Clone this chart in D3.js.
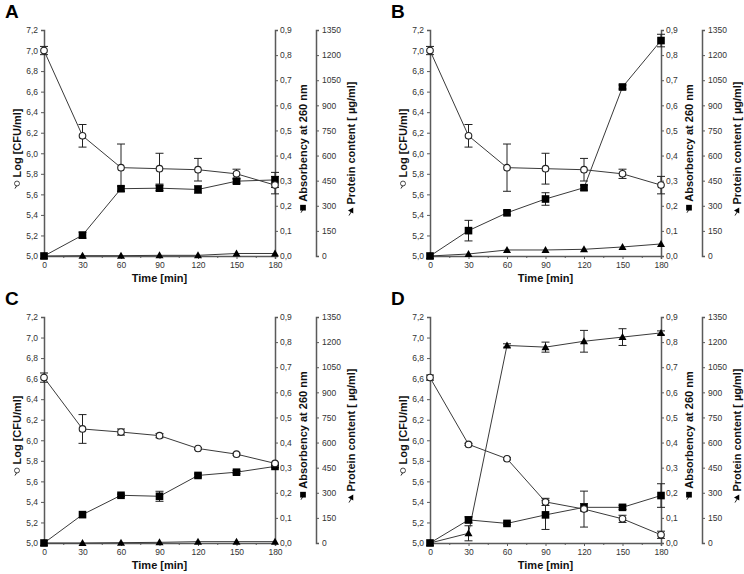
<!DOCTYPE html>
<html><head><meta charset="utf-8">
<script src="https://cdn.jsdelivr.net/npm/d3@7"></script>
<style>body{margin:0;background:#fff}svg{display:block}</style>
</head><body><svg id="c" width="744" height="574"></svg>
<script>
// ---- data ----
const times = [0, 30, 60, 90, 120, 150, 180];
const timeTicks = [0, 30, 60, 90, 120, 150, 180];
const timeMinorTicks = [15, 45, 75, 105, 135, 165];
const logTicks = [5.0, 5.2, 5.4, 5.6, 5.8, 6.0, 6.2, 6.4, 6.6, 6.8, 7.0, 7.2];
const absTicks = [0, 0.1, 0.2, 0.3, 0.4, 0.5, 0.6, 0.7, 0.8, 0.9];
const protTicks = [0, 150, 300, 450, 600, 750, 900, 1050, 1200, 1350];
const panelLetters = ["A", "B", "C", "D"];

const cfuA = [7.00, 6.17, 5.86, 5.85, 5.84, 5.80, 5.69];
const cfuErrA = [0.04, 0.11, 0.23, 0.15, 0.11, 0.045, 0.085];
const absA = [0, 0.083, 0.268, 0.270, 0.265, 0.298, 0.303];
const absErrA = [0, 0.012, 0.010, 0.010, 0.015, 0.008, 0.030];
const protA = [0, 2, 2, 4, 4, 15, 15];
const protErrA = [0, 0, 0, 0, 0, 0, 0];

const cfuB = [7.00, 6.17, 5.86, 5.85, 5.84, 5.80, 5.69];
const cfuErrB = [0.04, 0.11, 0.23, 0.15, 0.11, 0.045, 0.085];
const absB = [0, 0.101, 0.172, 0.227, 0.272, 0.673, 0.858];
const absErrB = [0, 0.041, 0.008, 0.025, 0.010, 0.008, 0.025];
const protB = [0, 12, 36, 36, 40, 54, 72];
const protErrB = [0, 0, 0, 0, 0, 0, 0];

const cfuC = [6.61, 6.11, 6.08, 6.045, 5.92, 5.865, 5.775];
const cfuErrC = [0.045, 0.14, 0.03, 0.02, 0.01, 0.01, 0.01];
const absC = [0, 0.113, 0.190, 0.186, 0.269, 0.282, 0.305];
const absErrC = [0, 0, 0.005, 0.020, 0.006, 0.006, 0.005];
const protC = [0, 0, 2, 4, 8, 8, 8];
const protErrC = [0, 0, 0, 0, 0, 0, 0];

const cfuD = [6.61, 5.96, 5.82, 5.40, 5.33, 5.235, 5.08];
const cfuErrD = [0.025, 0.01, 0.01, 0.035, 0.175, 0.035, 0.035];
const absD = [0, 0.092, 0.078, 0.112, 0.142, 0.142, 0.189];
const absErrD = [0, 0.012, 0.005, 0.058, 0.015, 0.008, 0.047];
const protD = [0, 58, 1180, 1170, 1205, 1230, 1255];
const protErrD = [0, 45, 10, 30, 65, 50, 12];

const panels = [
  {letter: panelLetters[0], cfu: cfuA, cfuErr: cfuErrA, abs: absA, absErr: absErrA, prot: protA, protErr: protErrA, dx: 0, dy: 0},
  {letter: panelLetters[1], cfu: cfuB, cfuErr: cfuErrB, abs: absB, absErr: absErrB, prot: protB, protErr: protErrB, dx: 386, dy: 0},
  {letter: panelLetters[2], cfu: cfuC, cfuErr: cfuErrC, abs: absC, absErr: absErrC, prot: protC, protErr: protErrC, dx: 0, dy: 287},
  {letter: panelLetters[3], cfu: cfuD, cfuErr: cfuErrD, abs: absD, absErr: absErrD, prot: protD, protErr: protErrD, dx: 386, dy: 287}
];

// ---- drawing ----
const svg = d3.select("#c");
const FONT = "'Liberation Sans', Arial, sans-serif";
const comma1 = v => d3.format(".1f")(v).replace(".", ",");
const axisCol = "#5a5a5a", lineCol = "#3a3a3a";

function styleAxis(g) {
  g.select(".domain").attr("stroke", axisCol).attr("stroke-width", 1.5);
  g.selectAll(".tick line").attr("stroke", axisCol).attr("stroke-width", 1);
  g.selectAll(".tick text").attr("font-family", FONT).attr("font-size", 8.5).attr("fill", "#333");
}

function marker(g, type, x, y) {
  if (type === "circle") {
    g.append("circle").attr("cx", x).attr("cy", y).attr("r", 3.3)
      .attr("fill", "#fff").attr("stroke", "#222").attr("stroke-width", 1.1);
  } else if (type === "square") {
    g.append("rect").attr("x", x - 3.8).attr("y", y - 3.8).attr("width", 7.6).attr("height", 7.6).attr("fill", "#000");
  } else {
    g.append("path").attr("d", `M${x},${y - 4}L${x + 4},${y + 3}L${x - 4},${y + 3}Z`).attr("fill", "#000");
  }
}

function titleWithSymbol(g, x, y, text, type) {
  const t = g.append("g").attr("transform", `translate(${x},${y}) rotate(-90)`);
  const txt = t.append("text").attr("font-family", FONT).attr("font-weight", "bold").attr("font-size", 11)
    .attr("fill", "#111").attr("text-anchor", "middle").text(text);
  const w = txt.node().getComputedTextLength();
  const sx = -w / 2 - 6;
  t.append("line").attr("x1", sx - 5).attr("x2", sx).attr("y1", -6).attr("y2", -3)
    .attr("stroke", "#222").attr("stroke-width", 1);
  const s = t.append("g").attr("transform", `translate(${sx},-4) scale(0.75)`);
  marker(s, type, 0, 0);
}

panels.forEach(p => {
  const L = 44 + p.dx, R = 275 + p.dx, P = 316 + p.dx, T = 30 + p.dy, B = 256 + p.dy;
  const x = d3.scaleLinear().domain([0, 180]).range([L, R]);
  const yL = d3.scaleLinear().domain([5.0, 7.2]).range([B, T]);
  const yA = d3.scaleLinear().domain([0, 0.9]).range([B, T]);
  const yP = d3.scaleLinear().domain([0, 1350]).range([B, T]);
  const g = svg.append("g");

  g.append("text").attr("x", 5 + p.dx).attr("y", 18 + p.dy).attr("font-family", FONT)
    .attr("font-weight", "bold").attr("font-size", 19).attr("fill", "#000").text(p.letter);

  g.append("g").attr("transform", `translate(${L},0)`)
    .call(d3.axisLeft(yL).tickValues(logTicks).tickSize(3).tickPadding(3).tickFormat(comma1)).call(styleAxis);
  g.append("g").attr("transform", `translate(${R},0)`)
    .call(d3.axisRight(yA).tickValues(absTicks).tickSize(3).tickPadding(2).tickFormat(comma1)).call(styleAxis);
  g.append("g").attr("transform", `translate(${P},0)`)
    .call(d3.axisRight(yP).tickValues(protTicks).tickSize(3).tickPadding(3).tickFormat(d3.format("d"))).call(styleAxis);
  g.append("g").attr("transform", `translate(0,${B})`)
    .call(d3.axisBottom(x).tickValues(timeTicks).tickSize(3).tickPadding(3).tickFormat(d3.format("d"))).call(styleAxis);
  g.append("g").attr("transform", `translate(0,${B})`)
    .call(d3.axisBottom(x).tickValues(timeMinorTicks).tickSize(2).tickFormat(""))
    .call(gg => { gg.select(".domain").remove(); gg.selectAll(".tick line").attr("stroke", axisCol); });

  g.append("text").attr("x", (L + R) / 2).attr("y", 282 + p.dy).attr("text-anchor", "middle")
    .attr("font-family", FONT).attr("font-weight", "bold").attr("font-size", 11).attr("fill", "#111").text("Time [min]");
  titleWithSymbol(g, 21 + p.dx, 143 + p.dy, "Log [CFU/ml]", "circle");
  titleWithSymbol(g, 307 + p.dx, 143 + p.dy, "Absorbency at 260 nm", "square");
  titleWithSymbol(g, 355 + p.dx, 143 + p.dy, "Protein content [ µg/ml]", "triangle");

  const series = [
    {vals: p.prot, err: p.protErr, y: yP, type: "triangle"},
    {vals: p.abs, err: p.absErr, y: yA, type: "square"},
    {vals: p.cfu, err: p.cfuErr, y: yL, type: "circle"}
  ];
  series.forEach(s => {
    const line = d3.line().x((d, i) => x(times[i])).y(d => s.y(d));
    g.append("path").attr("d", line(s.vals)).attr("fill", "none").attr("stroke", lineCol).attr("stroke-width", 1);
  });
  series.forEach(s => {
    s.vals.forEach((v, i) => {
      const e = s.err[i];
      if (!e) return;
      const cx = x(times[i]), y1 = s.y(v + e), y2 = s.y(v - e);
      g.append("line").attr("x1", cx).attr("x2", cx).attr("y1", y1).attr("y2", y2).attr("stroke", "#222").attr("stroke-width", 1);
      [y1, y2].forEach(yy => g.append("line").attr("x1", cx - 4).attr("x2", cx + 4).attr("y1", yy).attr("y2", yy)
        .attr("stroke", "#222").attr("stroke-width", 1));
    });
  });
  series.forEach(s => {
    s.vals.forEach((v, i) => marker(g, s.type, x(times[i]), s.y(v)));
  });
});
</script></body></html>
